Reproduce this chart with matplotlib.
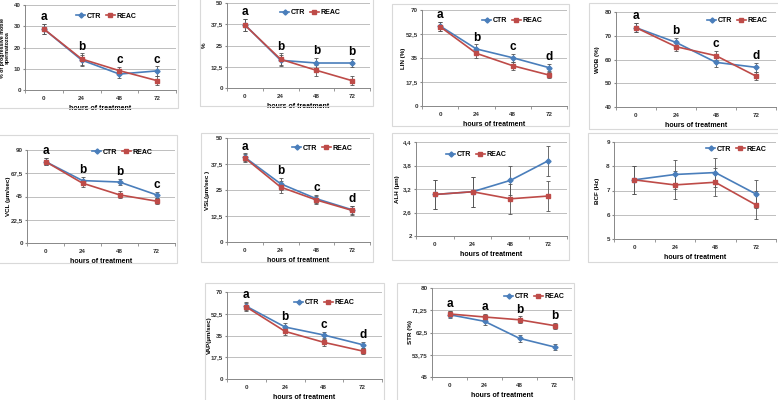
#!/usr/bin/env python3
"""Sperm motility parameters over hours of treatment, CTR vs REAC (10 small panels)."""

import matplotlib

matplotlib.use("Agg")

import matplotlib.pyplot as plt
from matplotlib.patches import Rectangle

plt.rcParams["font.family"] = ["Liberation Sans", "DejaVu Sans"]

HOURS = ["0", "24", "48", "72"]

# % of progressive motile spermatozoa
PROG_CTR = [28.7, 14.1, 7.5, 9.0]
PROG_REAC = [28.7, 14.6, 9.1, 4.4]
PROG_ERR = [2.4, 2.6, 1.8, 2.2]
PROG_LETTERS = ["a", "b", "c", "c"]

# total motility %
MOT_CTR = [37.2, 16.3, 14.7, 14.7]
MOT_REAC = [37.0, 16.9, 10.4, 4.3]
MOT_ERR = [3.4, 3.4, 3.2, 2.5]
MOT_LETTERS = ["a", "b", "b", "b"]

LIN_CTR = [58.3, 41.6, 35.2, 28.0]
LIN_REAC = [57.8, 38.4, 29.4, 22.6]
LIN_ERR = [3.3, 3.3, 2.8, 2.5]
LIN_LETTERS = ["a", "b", "c", "d"]

WOB_CTR = [73.4, 67.2, 58.8, 56.7]
WOB_REAC = [73.4, 65.4, 61.6, 53.0]
WOB_ERR = [1.9, 2.0, 2.0, 1.8]
WOB_LETTERS = ["a", "b", "c", "d"]

VCL_CTR = [78.8, 60.4, 59.0, 46.6]
VCL_REAC = [78.8, 57.9, 46.6, 40.5]
VCL_ERR = [3.5, 3.3, 3.3, 3.0]
VCL_LETTERS = ["a", "b", "b", "c"]

VSL_CTR = [40.7, 28.0, 20.8, 15.5]
VSL_REAC = [40.4, 26.4, 20.2, 15.2]
VSL_ERR = [1.9, 2.8, 2.0, 2.0]
VSL_LETTERS = ["a", "b", "c", "d"]

ALH_CTR = [3.06, 3.13, 3.42, 3.92]
ALH_REAC = [3.06, 3.13, 2.95, 3.02]
ALH_ERR = [0.38, 0.38, 0.38, 0.38]

BCF_CTR = [7.44, 7.66, 7.74, 6.86]
BCF_REAC = [7.44, 7.23, 7.34, 6.41]
BCF_ERR = [0.58, 0.58, 0.58, 0.58]

VAP_CTR = [58.5, 41.8, 35.4, 27.6]
VAP_REAC = [57.9, 38.3, 29.5, 22.5]
VAP_ERR = [3.3, 3.0, 2.6, 2.3]
VAP_LETTERS = ["a", "b", "c", "d"]

STR_CTR = [69.5, 66.9, 60.2, 56.8]
STR_REAC = [69.8, 68.6, 67.5, 65.2]
STR_ERR = [1.3, 1.3, 1.3, 1.2]
STR_LETTERS = ["a", "a", "b", "b"]

CTR_COLOR = "#4A7EBB"
REAC_COLOR = "#BE4B48"
W, H = 778, 400

# (ctr, reac, err, letters, ylabel, ylabel x px, ticks, ticklabels,
#  plot box px (x0, x1, ytop, ybot), frame px (x0, x1, ytop, ybot), legend px (x, y))
PANELS = [
    (PROG_CTR, PROG_REAC, PROG_ERR, PROG_LETTERS, "% of progressive motile\nspermatozoa", 5,
     [0, 10, 20, 30, 40], ["0", "10", "20", "30", "40"],
     (25, 176, 5, 90), (-2, 178, -2, 108), (76, 16)),
    (MOT_CTR, MOT_REAC, MOT_ERR, MOT_LETTERS, "%", 204,
     [0, 12.5, 25, 37.5, 50], ["0", "12,5", "25", "37,5", "50"],
     (227, 370, 3, 88), (200, 373, -2, 106), (280, 13)),
    (LIN_CTR, LIN_REAC, LIN_ERR, LIN_LETTERS, "LIN (%)", 403,
     [0, 17.5, 35, 52.5, 70], ["0", "17,5", "35", "52,5", "70"],
     (422, 567, 10, 106), (392, 569, 4, 126), (482, 21)),
    (WOB_CTR, WOB_REAC, WOB_ERR, WOB_LETTERS, "WOB (%)", 598,
     [40, 50, 60, 70, 80], ["40", "50", "60", "70", "80"],
     (616, 776, 12, 107), (589, 780, 3, 129), (707, 21)),
    (VCL_CTR, VCL_REAC, VCL_ERR, VCL_LETTERS, "VCL (µm/sec)", 8,
     [0, 22.5, 45, 67.5, 90], ["0", "22,5", "45", "67,5", "90"],
     (27, 175, 150, 243), (-2, 177, 135, 263), (92, 152)),
    (VSL_CTR, VSL_REAC, VSL_ERR, VSL_LETTERS, "VSL(µm/sec )", 208,
     [0, 12.5, 25, 37.5, 50], ["0", "12,5", "25", "37,5", "50"],
     (227, 370, 138, 242), (201, 373, 133, 262), (292, 148)),
    (ALH_CTR, ALH_REAC, ALH_ERR, None, "ALH (µm)", 398,
     [2, 2.6, 3.2, 3.8, 4.4], ["2", "2,6", "3,2", "3,8", "4,4"],
     (416, 567, 142, 236), (392, 569, 133, 260), (446, 155)),
    (BCF_CTR, BCF_REAC, BCF_ERR, None, "BCF (Hz)", 597,
     [5, 6, 7, 8, 9], ["5", "6", "7", "8", "9"],
     (614, 776, 142, 239), (588, 780, 133, 262), (706, 149)),
    (VAP_CTR, VAP_REAC, VAP_ERR, VAP_LETTERS, "VAP(µm/sec)", 209,
     [0, 17.5, 35, 52.5, 70], ["0", "17,5", "35", "52,5", "70"],
     (227, 382, 292, 379), (205, 384, 283, 402), (294, 303)),
    (STR_CTR, STR_REAC, STR_ERR, STR_LETTERS, "STR (%)", 410,
     [45, 53.75, 62.5, 71.25, 80], ["45", "53,75", "62,5", "71,25", "80"],
     (432, 572, 288, 377), (397, 574, 283, 402), (504, 297)),
]


def draw_panel(fig, ctr, reac, err, letters, ylabel, ylabel_x, ticks, ticklabels, box, frame, leg):
    x0, x1, ytop, ybot = box
    ax = fig.add_axes([x0 / W, 1 - ybot / H, (x1 - x0) / W, (ybot - ytop) / H])
    fx0, fx1, fytop, fybot = frame
    fig.patches.append(Rectangle((fx0 / W, 1 - fybot / H), (fx1 - fx0) / W, (fybot - fytop) / H,
                                 transform=fig.transFigure, fill=False,
                                 edgecolor="#D9D9D9", linewidth=0.8, zorder=0))

    xs = list(range(len(HOURS)))
    for vals, color, marker, ms, label in [(ctr, CTR_COLOR, "D", 2.6, "CTR"),
                                           (reac, REAC_COLOR, "s", 2.4, "REAC")]:
        ax.errorbar(xs, vals, yerr=err, fmt="none", ecolor="#555555",
                    elinewidth=0.6, capsize=1.2, capthick=0.6, zorder=3)
        ax.plot(xs, vals, color=color, marker=marker, markersize=ms,
                linewidth=1.2, label=label, zorder=4)

    if letters:
        for i, letter in enumerate(letters):
            top = max(ctr[i], reac[i]) + err[i]
            ax.annotate(letter, (i, top), xytext=(0, 0.5), textcoords="offset points",
                        ha="center", va="bottom", fontsize=8.5, fontweight="bold", zorder=5)

    ax.set_xlim(-0.5, len(HOURS) - 0.5)
    ax.set_ylim(ticks[0], ticks[-1])
    ax.set_xticks(xs)
    ax.set_xticklabels(HOURS)
    ax.set_xticks([i - 0.5 for i in range(len(HOURS) + 1)], minor=True)
    ax.set_yticks(ticks)
    ax.set_yticklabels(ticklabels)
    ax.tick_params(axis="both", which="major", labelsize=4.5, length=0, pad=4, colors="#333333")
    ax.tick_params(axis="y", which="major", length=1.5, pad=1.5, color="#888888")
    ax.tick_params(axis="x", which="minor", length=2, color="#888888")
    for lab in ax.get_xticklabels() + ax.get_yticklabels():
        lab.set_fontweight("bold")
    ax.grid(axis="y", color="#BFBFBF", linewidth=0.7)
    ax.set_axisbelow(True)
    for side in ["top", "right"]:
        ax.spines[side].set_visible(False)
    for side in ["left", "bottom"]:
        ax.spines[side].set_color("#888888")
        ax.spines[side].set_linewidth(0.7)

    ax.set_xlabel("hours of treatment", fontsize=5, fontweight="bold", labelpad=3)
    size = 3.8 if "\n" in ylabel else 4.5
    ax.set_ylabel(ylabel, fontsize=size, fontweight="bold", va="center", linespacing=1.0)
    ax.yaxis.set_label_coords((ylabel_x - x0) / (x1 - x0), 0.5)

    ax.legend(loc="center left", bbox_to_anchor=(leg[0] / W, 1 - leg[1] / H),
              bbox_transform=fig.transFigure, ncol=2, frameon=False,
              prop={"size": 5, "weight": "bold"}, handlelength=1.3, handletextpad=0.3,
              columnspacing=0.6, borderpad=0, borderaxespad=0)
    return ax


def main():
    fig = plt.figure(figsize=(W / 100, H / 100), dpi=100)
    fig.patch.set_facecolor("white")
    for panel in PANELS:
        draw_panel(fig, *panel)
    fig.savefig("out.png", dpi=100)
    plt.close(fig)


if __name__ == "__main__":
    main()
